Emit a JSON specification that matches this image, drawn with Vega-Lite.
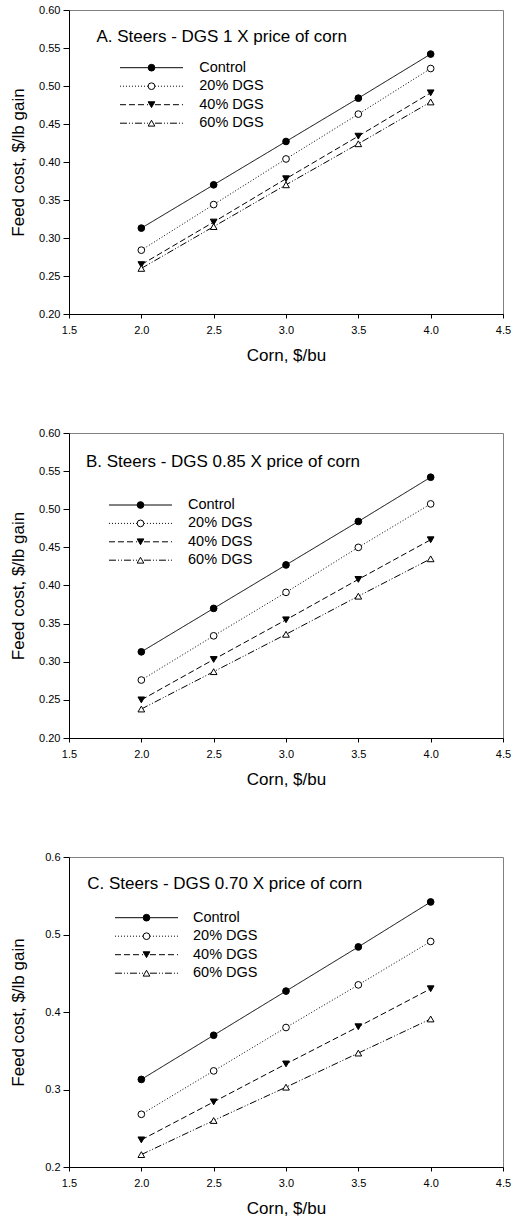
{
  "$schema": "https://vega.github.io/schema/vega-lite/v6.json",
  "padding": {"left": 9, "top": 3, "right": 0, "bottom": 5},
  "datasets": {
    "a": [
      {"corn": 2.0, "cost": 0.313, "diet": "Control"},
      {"corn": 2.5, "cost": 0.370, "diet": "Control"},
      {"corn": 3.0, "cost": 0.427, "diet": "Control"},
      {"corn": 3.5, "cost": 0.484, "diet": "Control"},
      {"corn": 4.0, "cost": 0.542, "diet": "Control"},
      {"corn": 2.0, "cost": 0.284, "diet": "20% DGS"},
      {"corn": 2.5, "cost": 0.344, "diet": "20% DGS"},
      {"corn": 3.0, "cost": 0.404, "diet": "20% DGS"},
      {"corn": 3.5, "cost": 0.463, "diet": "20% DGS"},
      {"corn": 4.0, "cost": 0.523, "diet": "20% DGS"},
      {"corn": 2.0, "cost": 0.265, "diet": "40% DGS"},
      {"corn": 2.5, "cost": 0.321, "diet": "40% DGS"},
      {"corn": 3.0, "cost": 0.378, "diet": "40% DGS"},
      {"corn": 3.5, "cost": 0.434, "diet": "40% DGS"},
      {"corn": 4.0, "cost": 0.491, "diet": "40% DGS"},
      {"corn": 2.0, "cost": 0.260, "diet": "60% DGS"},
      {"corn": 2.5, "cost": 0.315, "diet": "60% DGS"},
      {"corn": 3.0, "cost": 0.370, "diet": "60% DGS"},
      {"corn": 3.5, "cost": 0.424, "diet": "60% DGS"},
      {"corn": 4.0, "cost": 0.479, "diet": "60% DGS"}
    ],
    "b": [
      {"corn": 2.0, "cost": 0.313, "diet": "Control"},
      {"corn": 2.5, "cost": 0.370, "diet": "Control"},
      {"corn": 3.0, "cost": 0.427, "diet": "Control"},
      {"corn": 3.5, "cost": 0.484, "diet": "Control"},
      {"corn": 4.0, "cost": 0.542, "diet": "Control"},
      {"corn": 2.0, "cost": 0.276, "diet": "20% DGS"},
      {"corn": 2.5, "cost": 0.334, "diet": "20% DGS"},
      {"corn": 3.0, "cost": 0.391, "diet": "20% DGS"},
      {"corn": 3.5, "cost": 0.450, "diet": "20% DGS"},
      {"corn": 4.0, "cost": 0.507, "diet": "20% DGS"},
      {"corn": 2.0, "cost": 0.250, "diet": "40% DGS"},
      {"corn": 2.5, "cost": 0.303, "diet": "40% DGS"},
      {"corn": 3.0, "cost": 0.355, "diet": "40% DGS"},
      {"corn": 3.5, "cost": 0.408, "diet": "40% DGS"},
      {"corn": 4.0, "cost": 0.460, "diet": "40% DGS"},
      {"corn": 2.0, "cost": 0.238, "diet": "60% DGS"},
      {"corn": 2.5, "cost": 0.287, "diet": "60% DGS"},
      {"corn": 3.0, "cost": 0.336, "diet": "60% DGS"},
      {"corn": 3.5, "cost": 0.386, "diet": "60% DGS"},
      {"corn": 4.0, "cost": 0.435, "diet": "60% DGS"}
    ],
    "c": [
      {"corn": 2.0, "cost": 0.313, "diet": "Control"},
      {"corn": 2.5, "cost": 0.370, "diet": "Control"},
      {"corn": 3.0, "cost": 0.427, "diet": "Control"},
      {"corn": 3.5, "cost": 0.484, "diet": "Control"},
      {"corn": 4.0, "cost": 0.542, "diet": "Control"},
      {"corn": 2.0, "cost": 0.268, "diet": "20% DGS"},
      {"corn": 2.5, "cost": 0.324, "diet": "20% DGS"},
      {"corn": 3.0, "cost": 0.380, "diet": "20% DGS"},
      {"corn": 3.5, "cost": 0.435, "diet": "20% DGS"},
      {"corn": 4.0, "cost": 0.491, "diet": "20% DGS"},
      {"corn": 2.0, "cost": 0.235, "diet": "40% DGS"},
      {"corn": 2.5, "cost": 0.284, "diet": "40% DGS"},
      {"corn": 3.0, "cost": 0.333, "diet": "40% DGS"},
      {"corn": 3.5, "cost": 0.381, "diet": "40% DGS"},
      {"corn": 4.0, "cost": 0.430, "diet": "40% DGS"},
      {"corn": 2.0, "cost": 0.216, "diet": "60% DGS"},
      {"corn": 2.5, "cost": 0.260, "diet": "60% DGS"},
      {"corn": 3.0, "cost": 0.303, "diet": "60% DGS"},
      {"corn": 3.5, "cost": 0.347, "diet": "60% DGS"},
      {"corn": 4.0, "cost": 0.391, "diet": "60% DGS"}
    ]
  },
  "spacing": 62,
  "resolve": {
    "scale": {"strokeDash": "independent", "shape": "independent", "fill": "independent"},
    "legend": {"strokeDash": "independent", "shape": "independent", "fill": "independent"}
  },
  "vconcat": [
    {
      "width": 434, "height": 304,
      "data": {"name": "a"},
      "layer": [
        {
          "mark": {"type": "line", "color": "black", "strokeWidth": 1},
          "encoding": {
            "x": {"field": "corn", "type": "quantitative", "scale": {"domain": [1.5, 4.5], "nice": false, "zero": false}, "axis": {"values": [1.5, 2, 2.5, 3, 3.5, 4, 4.5], "tickCount": 20, "format": ".1f", "title": "Corn, $/bu", "labelOverlap": false, "labelFlush": false}},
            "y": {"field": "cost", "type": "quantitative", "scale": {"domain": [0.2, 0.6], "nice": false, "zero": false}, "axis": {"values": [0.2, 0.25, 0.3, 0.35, 0.4, 0.45, 0.5, 0.55, 0.6], "tickCount": 20, "format": ".2f", "title": "Feed cost, $/lb gain", "labelOverlap": false}},
            "strokeDash": {"field": "diet", "type": "nominal", "sort": ["Control", "20% DGS", "40% DGS", "60% DGS"], "scale": {"range": [[1, 0], [1, 2], [6, 3], [7, 2, 1, 2, 1, 2]]},
              "legend": {"orient": "none", "legendX": 75.25, "legendY": 50.45, "title": null, "symbolType": "M-5,0H-0.55M0.55,0H5", "symbolSize": 159, "symbolStrokeColor": "black", "symbolStrokeWidth": 1, "symbolFillColor": "transparent", "labelOffset": 40.5, "labelFontSize": 14.5, "labelFont": "Liberation Sans", "labelColor": "black", "rowPadding": 3.5}}
          }
        },
        {
          "mark": {"type": "point", "stroke": "black", "strokeWidth": 1, "opacity": 1, "size": 45},
          "encoding": {
            "x": {"field": "corn", "type": "quantitative"},
            "y": {"field": "cost", "type": "quantitative"},
            "shape": {"field": "diet", "type": "nominal", "scale": {"domain": ["Control", "20% DGS", "40% DGS", "60% DGS"], "range": ["circle", "circle", "triangle-down", "triangle-up"]},
              "legend": {"orient": "none", "legendX": 75.25, "legendY": 50.45, "title": null, "symbolSize": 45, "symbolStrokeColor": "black", "symbolStrokeWidth": 1, "symbolOpacity": 1, "labelOffset": 40.5, "labelFontSize": 14.5, "labelOpacity": 0, "rowPadding": 3.5,
                "encode": {"symbols": {"update": {"stroke": {"value": "black"}, "strokeWidth": {"value": 1}, "opacity": {"value": 1}}}}}},
            "fill": {"field": "diet", "type": "nominal", "scale": {"domain": ["Control", "20% DGS", "40% DGS", "60% DGS"], "range": ["black", "white", "black", "white"]},
              "legend": {"orient": "none", "legendX": 75.25, "legendY": 50.45, "title": null, "symbolSize": 45, "symbolStrokeColor": "black", "symbolStrokeWidth": 1, "symbolOpacity": 1, "labelOffset": 40.5, "labelFontSize": 14.5, "labelOpacity": 0, "rowPadding": 3.5,
                "encode": {"symbols": {"update": {"stroke": {"value": "black"}, "strokeWidth": {"value": 1}, "opacity": {"value": 1}}}}}}
          }
        },
        {
          "data": {"values": [{}]},
          "mark": {"type": "text", "text": "A. Steers - DGS 1 X price of corn", "align": "left", "baseline": "alphabetic", "fontSize": 17, "font": "Liberation Sans", "color": "black"},
          "encoding": {"x": {"datum": 1.69}, "y": {"datum": 0.558}}
        }
      ]
    },
    {
      "width": 434, "height": 305,
      "data": {"name": "b"},
      "layer": [
        {
          "mark": {"type": "line", "color": "black", "strokeWidth": 1},
          "encoding": {
            "x": {"field": "corn", "type": "quantitative", "scale": {"domain": [1.5, 4.5], "nice": false, "zero": false}, "axis": {"values": [1.5, 2, 2.5, 3, 3.5, 4, 4.5], "tickCount": 20, "format": ".1f", "title": "Corn, $/bu", "labelOverlap": false, "labelFlush": false}},
            "y": {"field": "cost", "type": "quantitative", "scale": {"domain": [0.2, 0.6], "nice": false, "zero": false}, "axis": {"values": [0.2, 0.25, 0.3, 0.35, 0.4, 0.45, 0.5, 0.55, 0.6], "tickCount": 20, "format": ".2f", "title": "Feed cost, $/lb gain", "labelOverlap": false}},
            "strokeDash": {"field": "diet", "type": "nominal", "sort": ["Control", "20% DGS", "40% DGS", "60% DGS"], "scale": {"range": [[1, 0], [1, 2], [6, 3], [7, 2, 1, 2, 1, 2]]},
              "legend": {"orient": "none", "legendX": 64.25, "legendY": 64.75, "title": null, "symbolType": "M-5,0H-0.55M0.55,0H5", "symbolSize": 159, "symbolStrokeColor": "black", "symbolStrokeWidth": 1, "symbolFillColor": "transparent", "labelOffset": 40.25, "labelFontSize": 14.5, "labelFont": "Liberation Sans", "labelColor": "black", "rowPadding": 3.4}}
          }
        },
        {
          "mark": {"type": "point", "stroke": "black", "strokeWidth": 1, "opacity": 1, "size": 45},
          "encoding": {
            "x": {"field": "corn", "type": "quantitative"},
            "y": {"field": "cost", "type": "quantitative"},
            "shape": {"field": "diet", "type": "nominal", "scale": {"domain": ["Control", "20% DGS", "40% DGS", "60% DGS"], "range": ["circle", "circle", "triangle-down", "triangle-up"]},
              "legend": {"orient": "none", "legendX": 64.25, "legendY": 64.75, "title": null, "symbolSize": 45, "symbolStrokeColor": "black", "symbolStrokeWidth": 1, "symbolOpacity": 1, "labelOffset": 40.25, "labelFontSize": 14.5, "labelOpacity": 0, "rowPadding": 3.4,
                "encode": {"symbols": {"update": {"stroke": {"value": "black"}, "strokeWidth": {"value": 1}, "opacity": {"value": 1}}}}}},
            "fill": {"field": "diet", "type": "nominal", "scale": {"domain": ["Control", "20% DGS", "40% DGS", "60% DGS"], "range": ["black", "white", "black", "white"]},
              "legend": {"orient": "none", "legendX": 64.25, "legendY": 64.75, "title": null, "symbolSize": 45, "symbolStrokeColor": "black", "symbolStrokeWidth": 1, "symbolOpacity": 1, "labelOffset": 40.25, "labelFontSize": 14.5, "labelOpacity": 0, "rowPadding": 3.4,
                "encode": {"symbols": {"update": {"stroke": {"value": "black"}, "strokeWidth": {"value": 1}, "opacity": {"value": 1}}}}}}
          }
        },
        {
          "data": {"values": [{}]},
          "mark": {"type": "text", "text": "B. Steers - DGS 0.85 X price of corn", "align": "left", "baseline": "alphabetic", "fontSize": 17, "font": "Liberation Sans", "color": "black"},
          "encoding": {"x": {"datum": 1.6175}, "y": {"datum": 0.5558}}
        }
      ]
    },
    {
      "width": 434, "height": 310,
      "data": {"name": "c"},
      "layer": [
        {
          "mark": {"type": "line", "color": "black", "strokeWidth": 1},
          "encoding": {
            "x": {"field": "corn", "type": "quantitative", "scale": {"domain": [1.5, 4.5], "nice": false, "zero": false}, "axis": {"values": [1.5, 2, 2.5, 3, 3.5, 4, 4.5], "tickCount": 20, "format": ".1f", "title": "Corn, $/bu", "labelOverlap": false, "labelFlush": false}},
            "y": {"field": "cost", "type": "quantitative", "scale": {"domain": [0.2, 0.6], "nice": false, "zero": false}, "axis": {"values": [0.2, 0.3, 0.4, 0.5, 0.6], "tickCount": 20, "format": ".1f", "title": "Feed cost, $/lb gain", "labelOverlap": false, "titlePadding": 17}},
            "strokeDash": {"field": "diet", "type": "nominal", "sort": ["Control", "20% DGS", "40% DGS", "60% DGS"], "scale": {"range": [[1, 0], [1, 2], [6, 3], [7, 2, 1, 2, 1, 2]]},
              "legend": {"orient": "none", "legendX": 70.25, "legendY": 53.45, "title": null, "symbolType": "M-5,0H-0.55M0.55,0H5", "symbolSize": 159, "symbolStrokeColor": "black", "symbolStrokeWidth": 1, "symbolFillColor": "transparent", "labelOffset": 39.25, "labelFontSize": 14.5, "labelFont": "Liberation Sans", "labelColor": "black", "rowPadding": 3.5}}
          }
        },
        {
          "mark": {"type": "point", "stroke": "black", "strokeWidth": 1, "opacity": 1, "size": 45},
          "encoding": {
            "x": {"field": "corn", "type": "quantitative"},
            "y": {"field": "cost", "type": "quantitative"},
            "shape": {"field": "diet", "type": "nominal", "scale": {"domain": ["Control", "20% DGS", "40% DGS", "60% DGS"], "range": ["circle", "circle", "triangle-down", "triangle-up"]},
              "legend": {"orient": "none", "legendX": 70.25, "legendY": 53.45, "title": null, "symbolSize": 45, "symbolStrokeColor": "black", "symbolStrokeWidth": 1, "symbolOpacity": 1, "labelOffset": 39.25, "labelFontSize": 14.5, "labelOpacity": 0, "rowPadding": 3.5,
                "encode": {"symbols": {"update": {"stroke": {"value": "black"}, "strokeWidth": {"value": 1}, "opacity": {"value": 1}}}}}},
            "fill": {"field": "diet", "type": "nominal", "scale": {"domain": ["Control", "20% DGS", "40% DGS", "60% DGS"], "range": ["black", "white", "black", "white"]},
              "legend": {"orient": "none", "legendX": 70.25, "legendY": 53.45, "title": null, "symbolSize": 45, "symbolStrokeColor": "black", "symbolStrokeWidth": 1, "symbolOpacity": 1, "labelOffset": 39.25, "labelFontSize": 14.5, "labelOpacity": 0, "rowPadding": 3.5,
                "encode": {"symbols": {"update": {"stroke": {"value": "black"}, "strokeWidth": {"value": 1}, "opacity": {"value": 1}}}}}}
          }
        },
        {
          "data": {"values": [{}]},
          "mark": {"type": "text", "text": "C. Steers - DGS 0.70 X price of corn", "align": "left", "baseline": "alphabetic", "fontSize": 17, "font": "Liberation Sans", "color": "black"},
          "encoding": {"x": {"datum": 1.6265}, "y": {"datum": 0.5583}}
        }
      ]
    }
  ],
  "config": {
    "font": "Liberation Sans",
    "view": {"stroke": "#808080", "strokeWidth": 1},
    "axis": {"grid": false, "domainColor": "black", "domainWidth": 1, "tickColor": "black", "tickWidth": 1, "labelColor": "black", "titleColor": "black", "labelFontSize": 11, "titleFontSize": 17, "titleFontWeight": "normal", "labelFont": "Liberation Sans", "titleFont": "Liberation Sans", "labelOverlap": false},
    "axisX": {"tickSize": 4, "labelPadding": 6, "titlePadding": 12, "labelFlush": false},
    "axisY": {"tickSize": 6, "labelPadding": 3, "titlePadding": 11},
    "legend": {"padding": 0, "labelFont": "Liberation Sans", "labelFontSize": 14.5, "labelColor": "black"}
  }
}
